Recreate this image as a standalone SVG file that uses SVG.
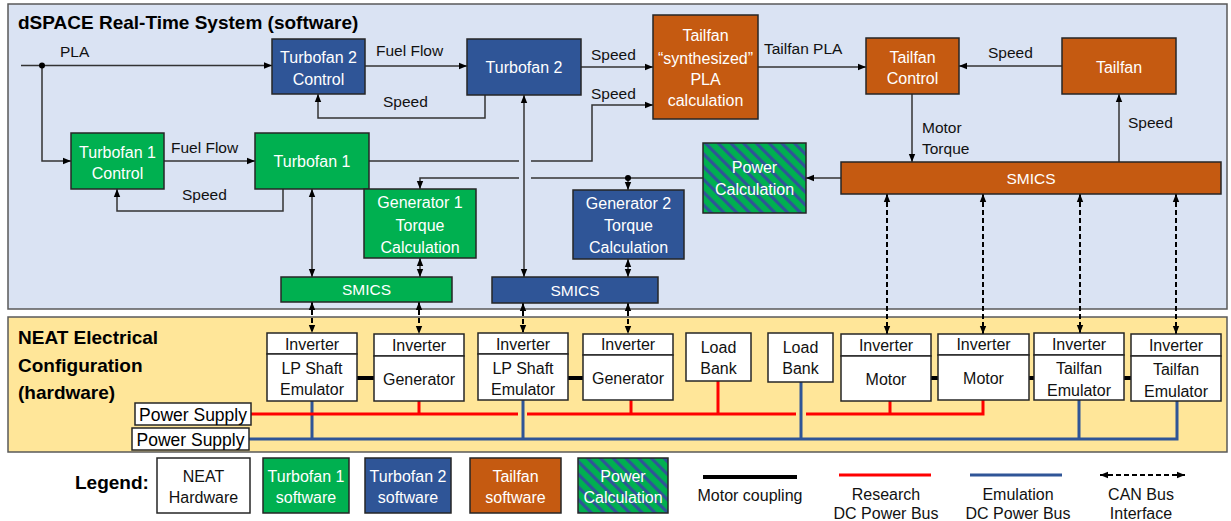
<svg xmlns="http://www.w3.org/2000/svg" width="1231" height="521" viewBox="0 0 1231 521">
<defs>
<style>
text{font-family:"Liberation Sans",Arial,sans-serif}
.panel{stroke:#595959;stroke-width:1.5}
.box{stroke:#262626;stroke-width:1.5}
.g{fill:#00b050}
.b{fill:#2f5597}
.o{fill:#c55a11}
.w{fill:#fff}
.pc{fill:url(#stripes)}
.tw{fill:#fff;font-size:16px;text-anchor:middle}
.tk{fill:#111;font-size:16px;text-anchor:middle}
.sm{fill:#fff;font-size:15.5px;text-anchor:middle}
.lbl{fill:#111;font-size:15.5px}
.lc{fill:#111;font-size:16px;text-anchor:middle}
.title{font-weight:bold;font-size:19px;fill:#000}
.ps{fill:#000;font-size:17.5px;text-anchor:middle}
.c{fill:none;stroke:#333;stroke-width:1.5}
.can{fill:none;stroke:#000;stroke-width:2;stroke-dasharray:5 3}
.red{fill:none;stroke:#ff0000;stroke-width:3}
.blu{fill:none;stroke:#2f5597;stroke-width:3}
.cpl{fill:none;stroke:#000;stroke-width:4}
</style>
<pattern id="stripes" patternUnits="userSpaceOnUse" width="9" height="9" patternTransform="rotate(-45)">
<rect width="9" height="9" fill="#00b050"/>
<rect width="3.2" height="9" fill="#2f5597"/>
</pattern>
<marker id="ah" viewBox="0 0 10 10" refX="10" refY="5" markerWidth="8" markerHeight="8" markerUnits="userSpaceOnUse" orient="auto-start-reverse"><path d="M0,1 L10,5 L0,9 z" fill="#000"/></marker>
</defs>

<g id="panel-dspace">
<rect x="8" y="4" width="1219" height="305" fill="#dae3f3" class="panel"/>
<text x="18" y="29" class="title">dSPACE Real-Time System (software)</text>
</g>
<g id="panel-neat">
<rect x="8" y="317" width="1219" height="135" fill="#ffe699" class="panel"/>
<text class="title"><tspan x="18" y="344">NEAT Electrical</tspan><tspan x="18" y="371.5">Configuration</tspan><tspan x="18" y="399">(hardware)</tspan></text>
</g>

<g id="connectors">
<path class="c" d="M21,65.5 H272" marker-end="url(#ah)"/>
<path class="c" d="M42,65.5 V161 H71" marker-end="url(#ah)"/>
<circle cx="42" cy="65.5" r="3" fill="#000"/>
<path class="c" d="M365,66 H467" marker-end="url(#ah)"/>
<path class="c" d="M581,67 H653" marker-end="url(#ah)"/>
<path class="c" d="M758,67 H866" marker-end="url(#ah)"/>
<path class="c" d="M1062,66 H959" marker-end="url(#ah)"/>
<path class="c" d="M912,94 V162" marker-end="url(#ah)"/>
<path class="c" d="M1119,162 V94" marker-end="url(#ah)"/>
<path class="c" d="M841,178 H806" marker-end="url(#ah)"/>
<path class="c" d="M703,178 H531"/>
<path class="c" d="M519,178 H420 V189" marker-end="url(#ah)"/>
<path class="c" d="M628,178 V190" marker-end="url(#ah)"/>
<circle cx="628" cy="178" r="3" fill="#000"/>
<path class="c" d="M164,161 H255" marker-end="url(#ah)"/>
<path class="c" d="M283,189 V211 H117 V189" marker-end="url(#ah)"/>
<path class="c" d="M485,95 V118 H318 V94" marker-end="url(#ah)"/>
<path class="c" d="M369,161 H519"/>
<path class="c" d="M531,161 H592 V105 H653" marker-end="url(#ah)"/>
<path class="c" d="M312,189 V277" marker-start="url(#ah)" marker-end="url(#ah)"/>
<path class="c" d="M420,258 V277" marker-start="url(#ah)" marker-end="url(#ah)"/>
<path class="c" d="M628,259 V277" marker-start="url(#ah)" marker-end="url(#ah)"/>
<path class="c" d="M524,95 V277" marker-start="url(#ah)" marker-end="url(#ah)"/>

<path class="can" d="M312,302 V333" marker-start="url(#ah)" marker-end="url(#ah)"/>
<path class="can" d="M419,302 V334" marker-start="url(#ah)" marker-end="url(#ah)"/>
<path class="can" d="M523,303 V333" marker-start="url(#ah)" marker-end="url(#ah)"/>
<path class="can" d="M628,303 V334" marker-start="url(#ah)" marker-end="url(#ah)"/>
<path class="can" d="M887,194 V334" marker-start="url(#ah)" marker-end="url(#ah)"/>
<path class="can" d="M983,194 V334" marker-start="url(#ah)" marker-end="url(#ah)"/>
<path class="can" d="M1080,194 V333" marker-start="url(#ah)" marker-end="url(#ah)"/>
<path class="can" d="M1176,194 V334" marker-start="url(#ah)" marker-end="url(#ah)"/>

<path class="blu" d="M249,439 H1177 V401 M312,439 V401 M523,439 V400 M801,439 V382 M1079,439 V400"/>
<path class="red" d="M251,414 H518 M527,414 H796 M806,414 H983 V400 M419,414 V401 M631,414 V400 M718,414 V381 M890,414 V401"/>
<path class="cpl" d="M357,378 H374 M568,378 H583 M931,378 H938 M1029,378 H1034 M1124,378 H1131"/>
</g>

<g id="labels">
<text class="lbl" x="60" y="57">PLA</text>
<text class="lbl" x="376" y="55.5">Fuel Flow</text>
<text class="lbl" x="383" y="106.5">Speed</text>
<text class="lbl" x="171" y="152.5">Fuel Flow</text>
<text class="lbl" x="182" y="199.5">Speed</text>
<text class="lbl" x="591" y="59.5">Speed</text>
<text class="lbl" x="591" y="98.5">Speed</text>
<text class="lbl" x="764" y="53.5">Tailfan PLA</text>
<text class="lbl" x="988" y="57.5">Speed</text>
<text class="lbl"><tspan x="922" y="132.5">Motor</tspan><tspan x="922" y="153.5">Torque</tspan></text>
<text class="lbl" x="1128" y="127.5">Speed</text>
</g>

<g id="tf2-control"><rect x="272" y="39" width="93" height="55" class="box b"/><text class="tw"><tspan x="318.5" y="62.5">Turbofan 2</tspan><tspan x="318.5" y="84.5">Control</tspan></text></g>
<g id="tf1-control"><rect x="71" y="133" width="93" height="56" class="box g"/><text class="tw"><tspan x="117.5" y="157.5">Turbofan 1</tspan><tspan x="117.5" y="178.5">Control</tspan></text></g>
<g id="tf1"><rect x="255" y="133" width="114" height="56" class="box g"/><text class="tw" x="312" y="166.5">Turbofan 1</text></g>
<g id="tf2"><rect x="467" y="39" width="114" height="56" class="box b"/><text class="tw" x="524" y="72.5">Turbofan 2</text></g>
<g id="tailfan-synth"><rect x="653" y="15" width="105" height="104" class="box o"/><text class="tw"><tspan x="705.5" y="40.5">Tailfan</tspan><tspan x="705.5" y="63.5">“synthesized”</tspan><tspan x="705.5" y="84.5">PLA</tspan><tspan x="705.5" y="105.5">calculation</tspan></text></g>
<g id="tailfan-control"><rect x="866" y="38" width="93" height="56" class="box o"/><text class="tw"><tspan x="912.5" y="62.5">Tailfan</tspan><tspan x="912.5" y="83.5">Control</tspan></text></g>
<g id="tailfan"><rect x="1062" y="38" width="114" height="56" class="box o"/><text class="tw" x="1119" y="72.5">Tailfan</text></g>
<g id="smics-tailfan"><rect x="841" y="162" width="380" height="32" class="box o"/><text class="sm" x="1031" y="183.5">SMICS</text></g>
<g id="power-calc"><rect x="703" y="143" width="103" height="70" class="box pc"/><text class="tw"><tspan x="754.5" y="172.5">Power</tspan><tspan x="754.5" y="194.5">Calculation</tspan></text></g>
<g id="gen1-torque"><rect x="364" y="189" width="112" height="69" class="box g"/><text class="tw"><tspan x="420" y="207.5">Generator 1</tspan><tspan x="420" y="230.5">Torque</tspan><tspan x="420" y="252.5">Calculation</tspan></text></g>
<g id="gen2-torque"><rect x="573" y="190" width="111" height="69" class="box b"/><text class="tw"><tspan x="628.5" y="208.5">Generator 2</tspan><tspan x="628.5" y="230.5">Torque</tspan><tspan x="628.5" y="252.5">Calculation</tspan></text></g>
<g id="smics-tf1"><rect x="281" y="277" width="171" height="25" class="box g"/><text class="sm" x="366.5" y="295">SMICS</text></g>
<g id="smics-tf2"><rect x="492" y="277" width="166" height="26" class="box b"/><text class="sm" x="575" y="295.5">SMICS</text></g>

<g id="hw-lp1"><rect x="267" y="333" width="90" height="21" class="box w"/><rect x="267" y="354" width="90" height="47" class="box w"/><text class="tk"><tspan x="312" y="349.5">Inverter</tspan><tspan x="312" y="373.5">LP Shaft</tspan><tspan x="312" y="394.5">Emulator</tspan></text></g>
<g id="hw-gen1"><rect x="374" y="334" width="90" height="22" class="box w"/><rect x="374" y="356" width="90" height="45" class="box w"/><text class="tk"><tspan x="419" y="350.5">Inverter</tspan><tspan x="419" y="384.5">Generator</tspan></text></g>
<g id="hw-lp2"><rect x="478" y="333" width="90" height="21" class="box w"/><rect x="478" y="354" width="90" height="46" class="box w"/><text class="tk"><tspan x="523" y="349.5">Inverter</tspan><tspan x="523" y="373.5">LP Shaft</tspan><tspan x="523" y="395">Emulator</tspan></text></g>
<g id="hw-gen2"><rect x="583" y="334" width="90" height="21" class="box w"/><rect x="583" y="355" width="90" height="45" class="box w"/><text class="tk"><tspan x="628" y="350">Inverter</tspan><tspan x="628" y="383.5">Generator</tspan></text></g>
<g id="hw-load1"><rect x="686" y="333" width="65" height="48" class="box w"/><text class="tk"><tspan x="718.5" y="352.5">Load</tspan><tspan x="718.5" y="373.5">Bank</tspan></text></g>
<g id="hw-load2"><rect x="768" y="333" width="65" height="49" class="box w"/><text class="tk"><tspan x="800.5" y="353">Load</tspan><tspan x="800.5" y="374">Bank</tspan></text></g>
<g id="hw-motor1"><rect x="841" y="334" width="90" height="22" class="box w"/><rect x="841" y="356" width="90" height="45" class="box w"/><text class="tk"><tspan x="886" y="350.5">Inverter</tspan><tspan x="886" y="384.5">Motor</tspan></text></g>
<g id="hw-motor2"><rect x="938" y="334" width="91" height="21" class="box w"/><rect x="938" y="355" width="91" height="45" class="box w"/><text class="tk"><tspan x="983.5" y="350">Inverter</tspan><tspan x="983.5" y="383.5">Motor</tspan></text></g>
<g id="hw-tail1"><rect x="1034" y="333" width="90" height="22" class="box w"/><rect x="1034" y="355" width="90" height="45" class="box w"/><text class="tk"><tspan x="1079" y="349.5">Inverter</tspan><tspan x="1079" y="373.5">Tailfan</tspan><tspan x="1079" y="395.5">Emulator</tspan></text></g>
<g id="hw-tail2"><rect x="1131" y="334" width="90" height="22" class="box w"/><rect x="1131" y="356" width="90" height="45" class="box w"/><text class="tk"><tspan x="1176" y="350.5">Inverter</tspan><tspan x="1176" y="374.5">Tailfan</tspan><tspan x="1176" y="396.5">Emulator</tspan></text></g>
<g id="ps-research"><rect x="135" y="403" width="116" height="22" class="box w"/><text class="ps" x="193" y="420.5">Power Supply</text></g>
<g id="ps-emulation"><rect x="132" y="428" width="117" height="22" class="box w"/><text class="ps" x="190.5" y="445.5">Power Supply</text></g>

<g id="legend">
<text class="title" x="75" y="489">Legend:</text>
<rect x="157" y="458" width="93" height="55" class="box w"/><text class="tk"><tspan x="203.5" y="481.5">NEAT</tspan><tspan x="203.5" y="502.5">Hardware</tspan></text>
<rect x="263" y="458" width="86" height="55" class="box g"/><text class="tw"><tspan x="306" y="481.5">Turbofan 1</tspan><tspan x="306" y="502.5">software</tspan></text>
<rect x="365" y="458" width="86" height="55" class="box b"/><text class="tw"><tspan x="408" y="481.5">Turbofan 2</tspan><tspan x="408" y="502.5">software</tspan></text>
<rect x="470" y="458" width="91" height="55" class="box o"/><text class="tw"><tspan x="515.5" y="481.5">Tailfan</tspan><tspan x="515.5" y="502.5">software</tspan></text>
<rect x="578" y="458" width="90" height="55" class="box pc"/><text class="tw"><tspan x="623" y="481.5">Power</tspan><tspan x="623" y="502.5">Calculation</tspan></text>
<path class="cpl" d="M703,477 H797"/>
<text class="lc" x="750" y="500.5">Motor coupling</text>
<path class="red" d="M839,475 H931"/>
<text class="lc"><tspan x="886" y="499.5">Research</tspan><tspan x="886" y="519">DC Power Bus</tspan></text>
<path class="blu" d="M970,475 H1062"/>
<text class="lc"><tspan x="1018" y="499.5">Emulation</tspan><tspan x="1018" y="519">DC Power Bus</tspan></text>
<path class="can" d="M1100,475 H1185" marker-start="url(#ah)" marker-end="url(#ah)"/>
<text class="lc"><tspan x="1141" y="499.5">CAN Bus</tspan><tspan x="1141" y="519">Interface</tspan></text>
</g>
</svg>
